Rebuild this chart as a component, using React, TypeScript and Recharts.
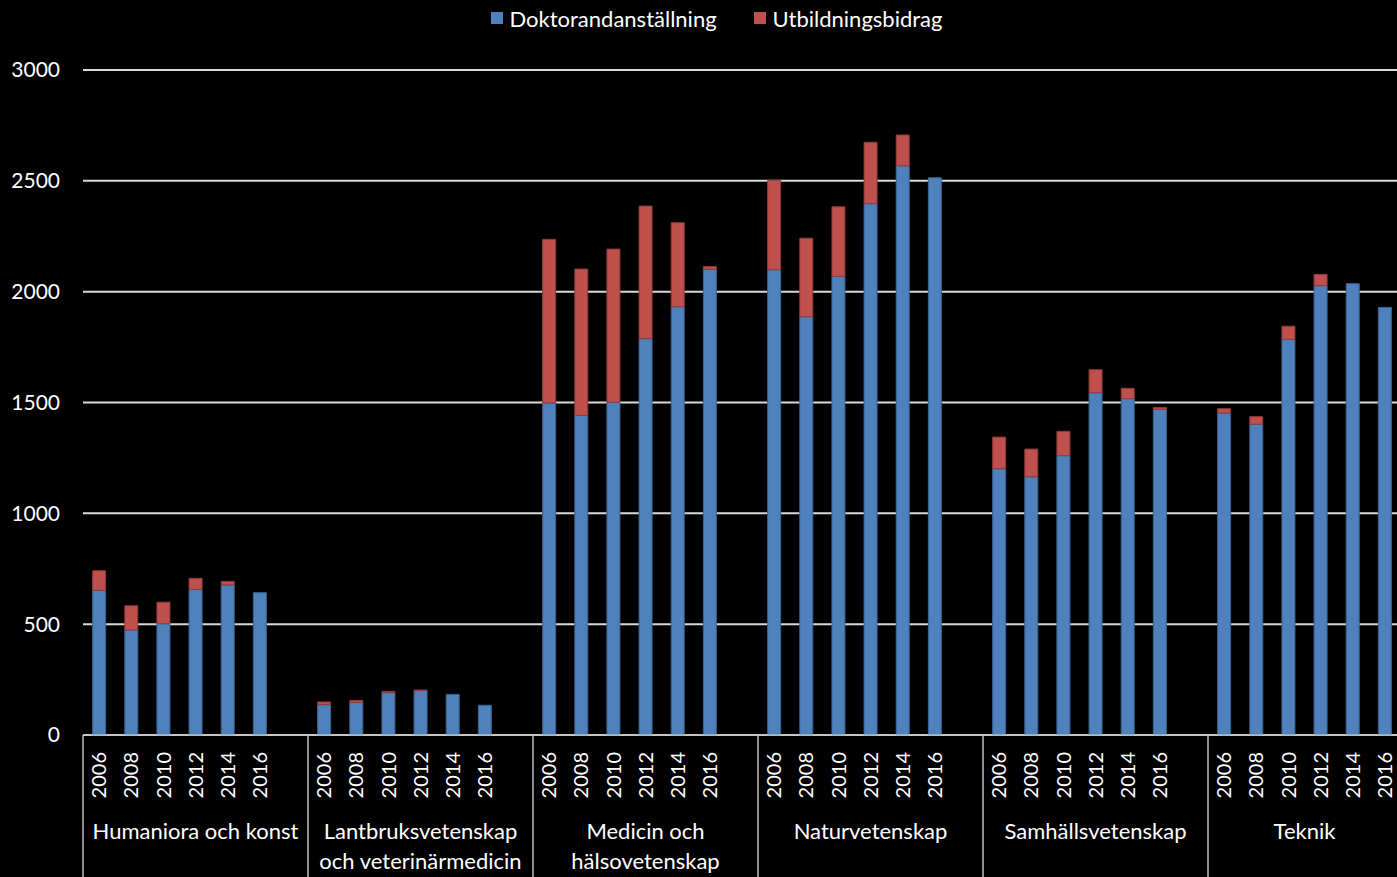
import React from "react";
import { BarChart, Bar, XAxis, YAxis, CartesianGrid, Legend } from "recharts";

const groupLabels: string[][] = [
  ["Humaniora och konst"],
  ["Lantbruksvetenskap", "och veterinärmedicin"],
  ["Medicin och", "hälsovetenskap"],
  ["Naturvetenskap"],
  ["Samhällsvetenskap"],
  ["Teknik"],
];
const years = ["2006", "2008", "2010", "2012", "2014", "2016"];
const doktorand: number[][] = [
  [653, 474, 502, 657, 677, 642],
  [137, 147, 191, 201, 183, 134],
  [1498, 1442, 1501, 1788, 1932, 2101],
  [2099, 1887, 2069, 2397, 2568, 2514],
  [1201, 1165, 1260, 1544, 1517, 1469],
  [1453, 1402, 1785, 2027, 2036, 1929],
];
const bidrag: number[][] = [
  [88, 109, 97, 50, 16, 0],
  [12, 9, 6, 2, 0, 0],
  [738, 660, 691, 598, 379, 12],
  [403, 354, 314, 277, 139, 0],
  [143, 125, 110, 104, 47, 8],
  [19, 34, 59, 51, 0, 0],
];
const yTicks = [0, 500, 1000, 1500, 2000, 2500, 3000];
const seriesNames = ["Doktorandanställning", "Utbildningsbidrag"];
const seriesColors = ["#4F81BD", "#C0504D"];
const seriesStrokes = ["#3A6593", "#8E3B39"];

const SLOTS_PER_GROUP = years.length + 1;
const VIEW_WIDTH = 1397;

type Slot = { key: number; year: string; group: number; pos: number; dok: number | null; bid: number | null };
const data: Slot[] = [];
groupLabels.forEach((_, g) => {
  for (let p = 0; p < SLOTS_PER_GROUP; p++) {
    const isYear = p < years.length;
    data.push({
      key: g * SLOTS_PER_GROUP + p,
      year: isYear ? years[p] : "",
      group: g,
      pos: p,
      dok: isYear ? doktorand[g][p] : null,
      bid: isYear ? bidrag[g][p] : null,
    });
  }
});

const FONT = "Lato, 'Open Sans', sans-serif";

const XTick = (props: any) => {
  const { x, y, payload, width } = props;
  const idx = payload?.value as number;
  const slot = data[idx];
  if (!slot) return null;
  const half =
    payload && typeof payload.offset === "number" && payload.offset > 0
      ? payload.offset
      : width / data.length / 2;
  const items: React.ReactNode[] = [];
  if (slot.year) {
    items.push(
      <text
        key="y"
        transform={`translate(${x}, ${y + 17}) rotate(-90)`}
        textAnchor="end"
        dy="0.36em"
        fill="#ffffff"
        fontSize={20}
        fontFamily={FONT}
      >
        {slot.year}
      </text>
    );
  }
  if (slot.pos === 0) {
    const left = x - half;
    items.push(
      <line key="s" x1={left} y1={y} x2={left} y2={y + 150} stroke="#bfbfbf" strokeWidth={1.5} />
    );
    const right = Math.min(left + half * 2 * SLOTS_PER_GROUP, VIEW_WIDTH + 4);
    const center = (left + right) / 2;
    groupLabels[slot.group].forEach((line, li) => {
      items.push(
        <text
          key={"g" + li}
          x={center}
          y={y + 96 + li * 30}
          textAnchor="middle"
          dy="0.36em"
          fill="#ffffff"
          fontSize={22}
          fontFamily={FONT}
        >
          {line}
        </text>
      );
    });
  }
  return <g>{items}</g>;
};

const LegendContent = () => (
  <div
    style={{
      height: 66,
      display: "flex",
      justifyContent: "center",
      alignItems: "flex-start",
      fontFamily: FONT,
      fontSize: 22,
      color: "#ffffff",
    }}
  >
    {seriesNames.map((n, i) => (
      <div key={n} style={{ display: "flex", alignItems: "center", marginRight: i === 0 ? 37 : 0, height: 28 }}>
        <div style={{ width: 12, height: 12, background: seriesColors[i], marginRight: 7 }} />
        <span>{n}</span>
      </div>
    ))}
  </div>
);

export default function App() {
  return (
    <div
      style={{
        position: "absolute",
        left: 0,
        top: 0,
        width: VIEW_WIDTH,
        height: 877,
        overflow: "hidden",
        background: "#000000",
      }}
    >
      <BarChart
        width={1433}
        height={877}
        data={data}
        margin={{ top: 4, right: 0, bottom: 0, left: 0 }}
        barCategoryGap="30%"
      >
        <Legend verticalAlign="top" content={<LegendContent />} />
        <CartesianGrid horizontal vertical={false} stroke="#d9d9d9" strokeWidth={2} />
        <XAxis
          dataKey="key"
          type="category"
          interval={0}
          height={142}
          tickLine={false}
          tickSize={0}
          tickMargin={0}
          axisLine={{ stroke: "#bfbfbf", strokeWidth: 1.5 }}
          tick={<XTick />}
        />
        <YAxis
          domain={[0, 3000]}
          ticks={yTicks}
          width={83}
          axisLine={false}
          tickLine={false}
          tickSize={0}
          tickMargin={23}
          tick={{ fill: "#ffffff", fontSize: 21, fontFamily: FONT }}
        />
        <Bar
          dataKey="dok"
          name={seriesNames[0]}
          stackId="a"
          fill={seriesColors[0]}
          stroke={seriesStrokes[0]}
          strokeWidth={1}
          isAnimationActive={false}
        />
        <Bar
          dataKey="bid"
          name={seriesNames[1]}
          stackId="a"
          fill={seriesColors[1]}
          stroke={seriesStrokes[1]}
          strokeWidth={1}
          isAnimationActive={false}
        />
      </BarChart>
    </div>
  );
}
